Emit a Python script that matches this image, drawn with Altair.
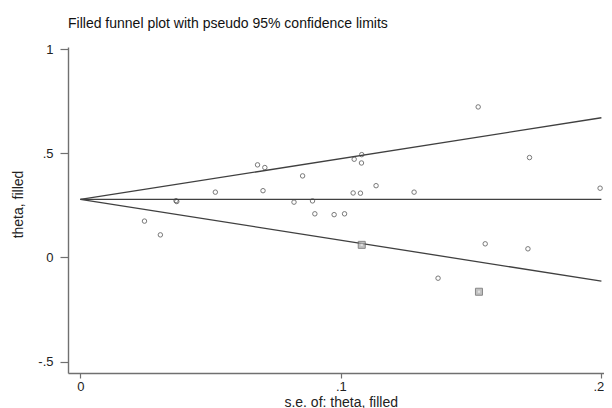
import altair as alt
import pandas as pd

# observed studies (s.e., theta)
obs_se = [0.0680, 0.0708, 0.0853, 0.0518, 0.0701, 0.0367, 0.0370, 0.0820, 0.0891,
          0.0900, 0.0246, 0.0307, 0.1527, 0.1080, 0.1051, 0.1079, 0.1724, 0.1135,
          0.1047, 0.1075, 0.1281, 0.1995, 0.0974, 0.1014, 0.1554, 0.1718, 0.1373]
obs_theta = [0.444, 0.431, 0.391, 0.313, 0.320, 0.272, 0.268, 0.265, 0.271,
             0.209, 0.174, 0.108, 0.722, 0.493, 0.471, 0.453, 0.479, 0.344,
             0.309, 0.308, 0.313, 0.332, 0.205, 0.209, 0.065, 0.041, -0.100]

# filled (imputed) studies
fill_se = [0.1080, 0.1530]
fill_theta = [0.060, -0.165]

# pseudo 95% confidence limits
lim_se = [0.0, 0.2]
lim_center = [0.278, 0.278]
lim_upper = [0.278, 0.670]
lim_lower = [0.278, -0.114]

title_text = ["Filled funnel plot with pseudo 95% confidence limits"]

obs = pd.DataFrame({"se": obs_se, "theta": obs_theta})
filled = pd.DataFrame({"se": fill_se, "theta": fill_theta})
lines = pd.DataFrame({
    "se": lim_se * 3,
    "theta": lim_center + lim_upper + lim_lower,
    "line": ["center"] * 2 + ["upper"] * 2 + ["lower"] * 2,
})
title_df = pd.DataFrame({"t": title_text})

x_scale = alt.Scale(domain=[-0.00476, 0.2010], nice=False, zero=False)
y_scale = alt.Scale(domain=[-0.555, 1.0096], nice=False, zero=False)

lab_expr = "datum.value == 0 ? '0' : replace(toString(datum.value), '0.', '.')"

x_axis = alt.Axis(values=[0, 0.1, 0.2], labelExpr=lab_expr, grid=False,
                  title="s.e. of: theta, filled", tickSize=5, labelPadding=2,
                  labelOffset={"condition": {"test": "datum.value > 0.15", "value": -3},
                               "value": 0},
                  titleX=272.7, titleY=33, titleBaseline="alphabetic",
                  titleAnchor="start", titleAlign="center")
y_axis = alt.Axis(values=[-0.5, 0, 0.5, 1], labelExpr=lab_expr, grid=False,
                  title="theta, filled", tickSize=8, labelPadding=7,
                  titleX=-50, titleY=157, titleBaseline="middle",
                  titleAlign="center", titleAngle=-90)

X = alt.X("se:Q", scale=x_scale, axis=x_axis)
Y = alt.Y("theta:Q", scale=y_scale, axis=y_axis)

line_layer = alt.Chart(lines).mark_line(color="#404040", strokeWidth=1.3).encode(
    x=X, y=Y, detail="line:N")

obs_layer = alt.Chart(obs).mark_point(shape="circle", filled=False, size=20,
                                      color="#404040", strokeWidth=1.0).encode(x=X, y=Y)

fill_layer = alt.Chart(filled).mark_point(shape="square", filled=True, size=49,
                                          fill="#a8a8a8", stroke="#555555",
                                          strokeWidth=1.0).encode(x=X, y=Y)
fill_dot = alt.Chart(filled).mark_point(shape="square", filled=True, size=5,
                                        fill="#eeeeee", strokeWidth=0).encode(x=X, y=Y)

title_layer = alt.Chart(title_df).mark_text(
    align="left", baseline="alphabetic", fontSize=14, font="Liberation Sans",
    color="#111111").encode(x=alt.value(0), y=alt.value(-19.5), text="t:N")

chart = alt.layer(line_layer, obs_layer, fill_layer, fill_dot, title_layer).properties(
    width=536, height=326,
    background="white",
    autosize=alt.AutoSizeParams(type="none"),
    padding={"left": 60, "top": 39, "right": 0, "bottom": 35},
).configure_view(stroke=None).configure_axis(
    domainColor="#707070", domainWidth=1.4, tickColor="#707070", tickWidth=1.2,
    labelFont="Liberation Sans", labelFontSize=13, labelColor="#222222",
    titleFont="Liberation Sans", titleFontSize=14, titleColor="#222222",
    titleFontWeight="normal",
)

chart.save("out.html", embed_options={"renderer": "svg", "actions": False})
